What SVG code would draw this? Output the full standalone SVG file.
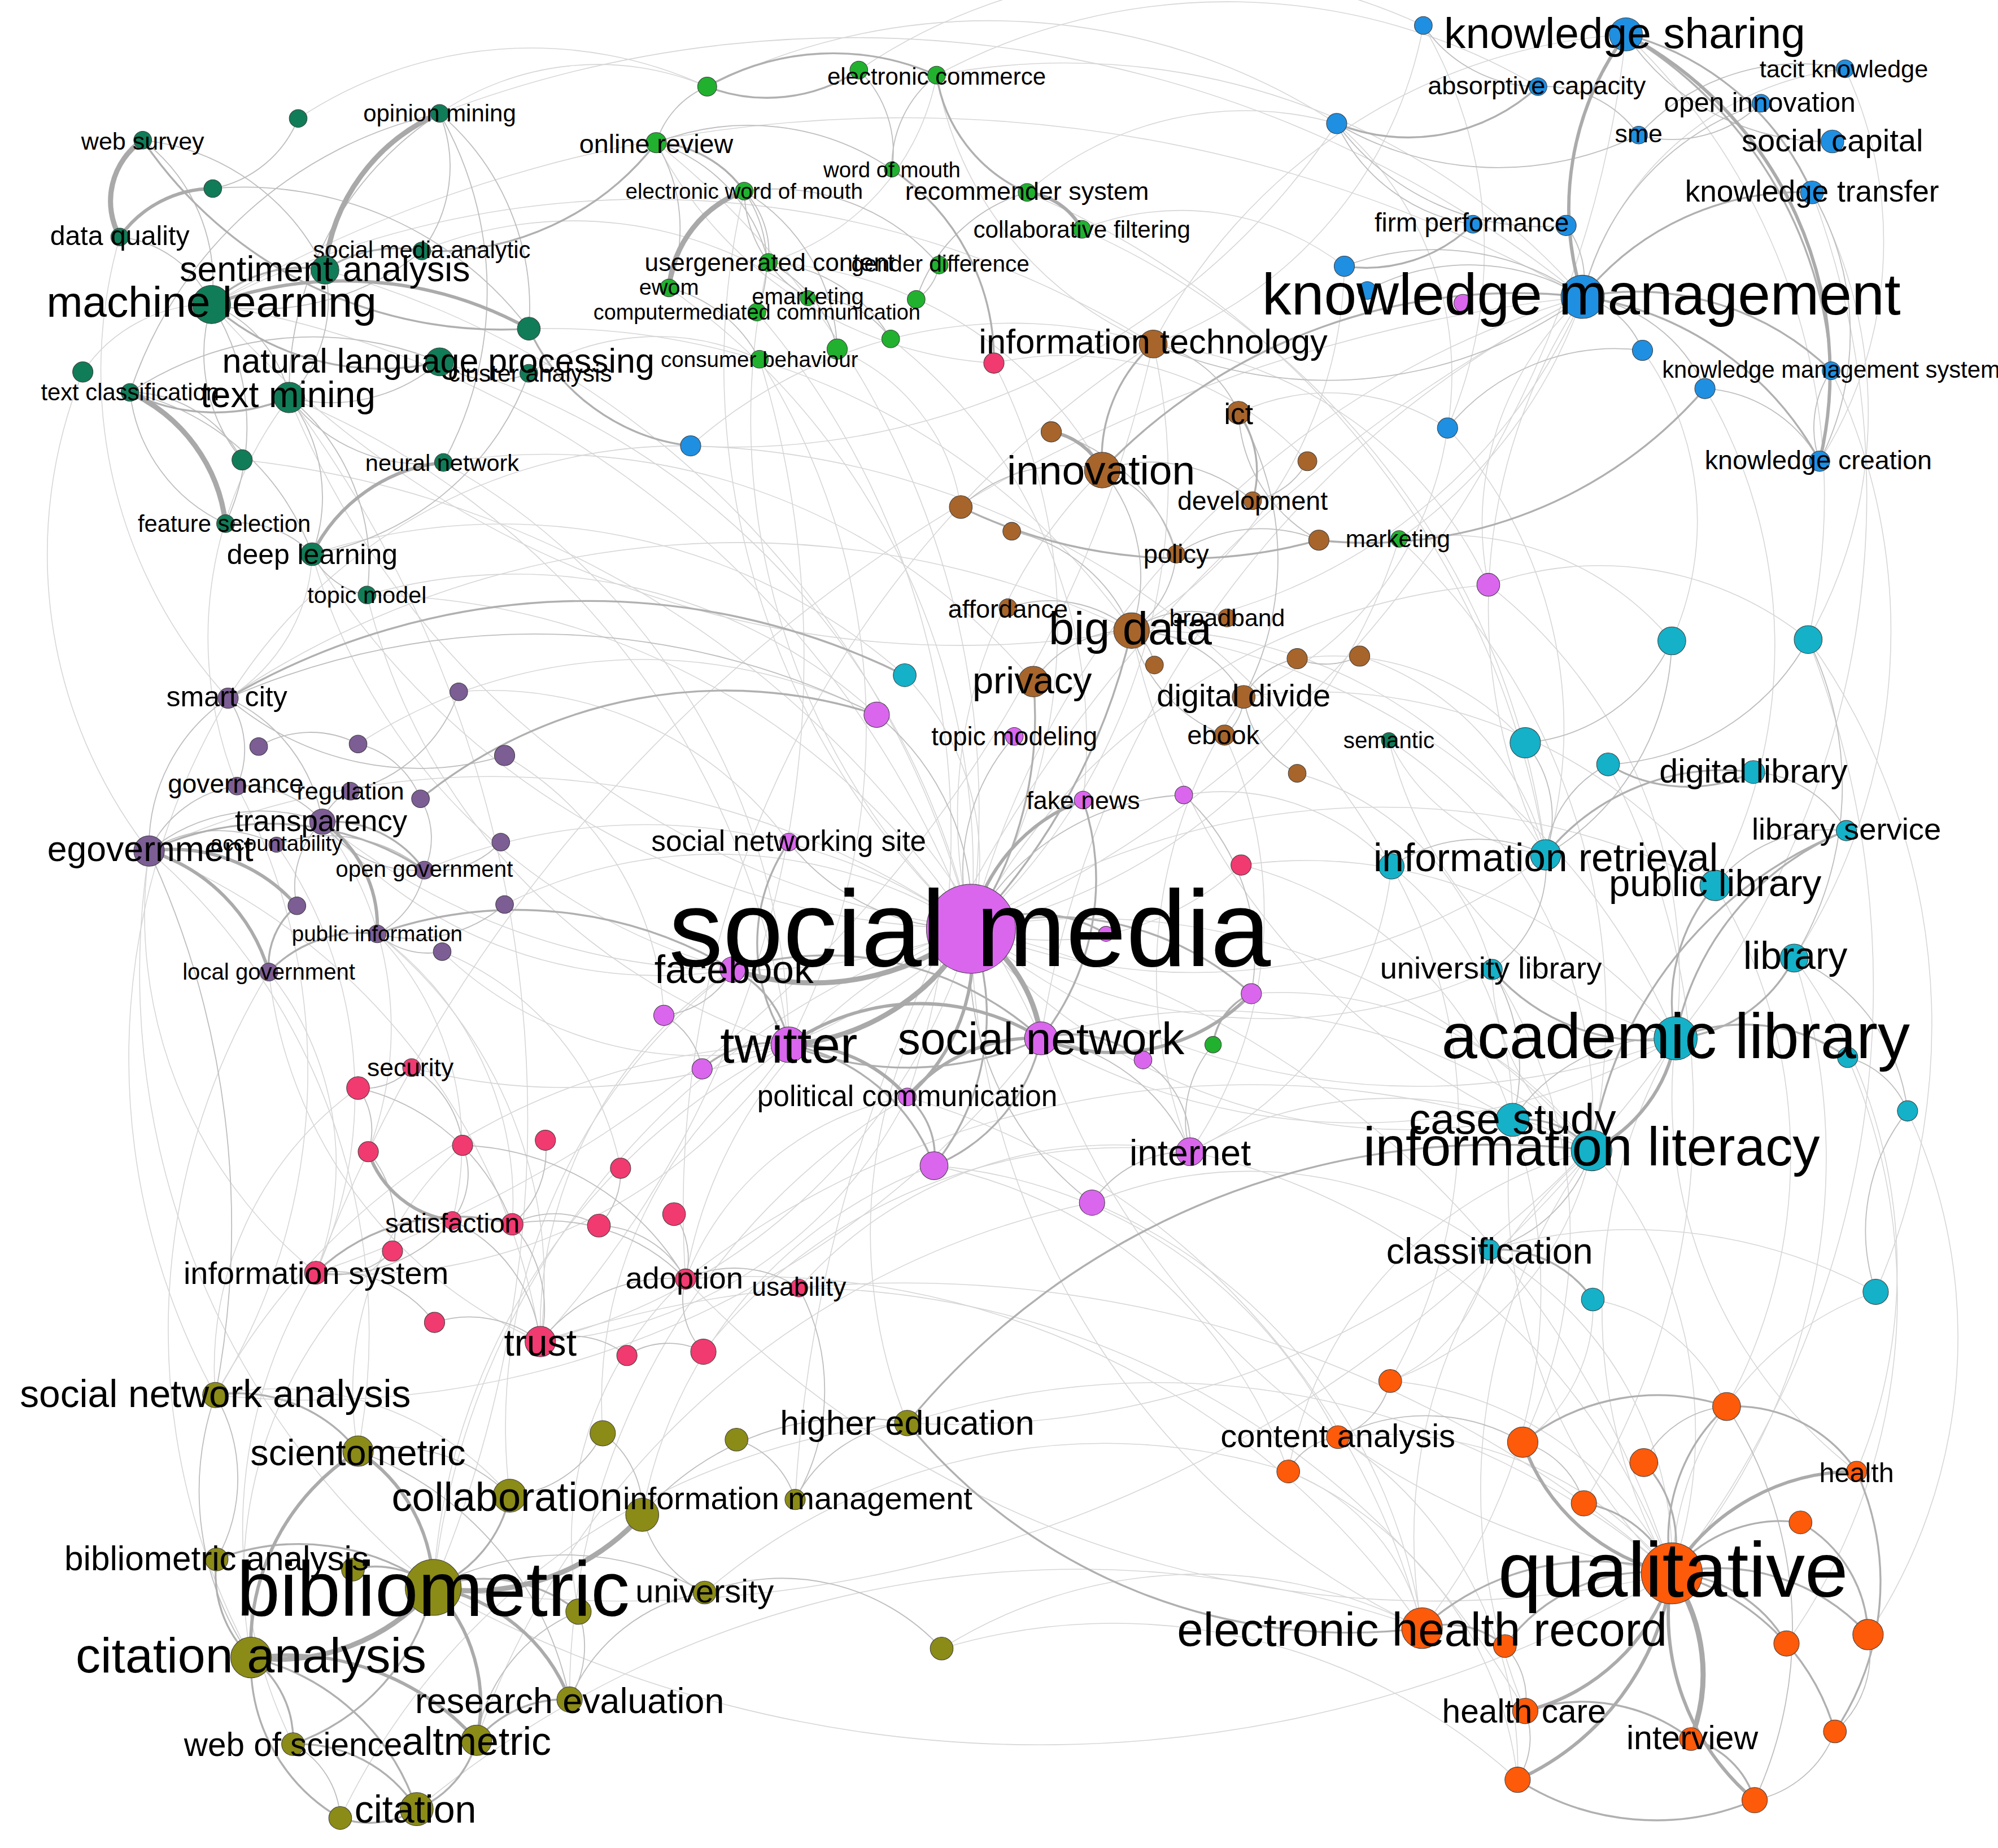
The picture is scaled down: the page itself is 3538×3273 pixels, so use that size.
<svg xmlns="http://www.w3.org/2000/svg" width="3538" height="3273" viewBox="0 0 3538 3273">
<style>
#edges path{fill:none;stroke-linecap:round}
.f{stroke:#d6d6d6;stroke-width:0.7}
.m{stroke:#bebebe;stroke-width:0.8}
.t{stroke:#b0b0b0;stroke-width:1.5}
.T{stroke:#ababab;stroke-width:2.6}
.X{stroke:#a9a9a9;stroke-width:4}
circle{stroke:#3c3c3c;stroke-width:0.45}
text{font-family:"Liberation Sans",Arial,Helvetica,sans-serif;fill:#000;text-anchor:middle;dominant-baseline:central}
.gml circle{fill:#117c58}
.gec circle{fill:#21b12f}
.gkm circle{fill:#1f8fe2}
.gbr circle{fill:#a7652b}
.ggv circle{fill:#7c5d94}
.gpk circle{fill:#f03a70}
.gsm circle{fill:#d966ed}
.gli circle{fill:#14b1c8}
.gol circle{fill:#8b8b17}
.gor circle{fill:#fd5a0a}
</style>
<rect width="3538" height="3273" fill="#fff"/>
<g transform="scale(2.2564)">
<g id="edges">
<path class="f" d="M762 729 A700 700 0 0 1 1242 233"/>
<path class="f" d="M762 729 A520 520 0 0 1 1249 903"/>
<path class="f" d="M1315 815 A560 560 0 0 1 762 729"/>
<path class="f" d="M762 729 A750 750 0 0 1 1312 1235"/>
<path class="f" d="M340 1246 A610 610 0 0 1 762 729"/>
<path class="f" d="M117 668 A650 650 0 0 1 762 729"/>
<path class="f" d="M166 239 A770 770 0 0 1 762 729"/>
<path class="f" d="M762 729 A680 680 0 0 1 227 312"/>
<path class="f" d="M1213 671 A460 460 0 0 1 762 729"/>
<path class="f" d="M762 729 A590 590 0 0 1 1346 695"/>
<path class="f" d="M762 729 A470 470 0 0 1 424 1053"/>
<path class="f" d="M538 1004 A360 360 0 0 1 762 729"/>
<path class="f" d="M712 1117 A400 400 0 0 1 762 729"/>
<path class="f" d="M905 270 A480 480 0 0 1 762 729"/>
<path class="f" d="M762 729 A380 380 0 0 1 865 369"/>
<path class="f" d="M1187 879 A450 450 0 0 1 762 729"/>
<path class="f" d="M169 1095 A530 530 0 0 1 619 820"/>
<path class="f" d="M227 312 A640 640 0 0 1 619 820"/>
<path class="f" d="M817 815 A780 780 0 0 1 1242 233"/>
<path class="f" d="M424 1053 A340 340 0 0 1 575 761"/>
<path class="f" d="M1213 671 A440 440 0 0 1 1242 233"/>
<path class="f" d="M1249 903 A340 340 0 0 1 1312 1235"/>
<path class="f" d="M1116 1278 A400 400 0 0 1 1249 903"/>
<path class="f" d="M1312 1235 A420 420 0 0 1 1315 815"/>
<path class="f" d="M1050 1128 A290 290 0 0 1 1312 1235"/>
<path class="f" d="M1249 903 A1000 1000 0 0 1 340 1246"/>
<path class="f" d="M227 312 A950 950 0 0 1 340 1246"/>
<path class="f" d="M888 495 A780 780 0 0 1 166 239"/>
<path class="f" d="M166 239 A1080 1080 0 0 1 1242 233"/>
<path class="f" d="M345 284 A600 600 0 0 1 762 729"/>
<path class="f" d="M888 495 A370 370 0 0 1 1213 671"/>
<path class="f" d="M1242 233 A440 440 0 0 1 888 495"/>
<path class="f" d="M248 999 A360 360 0 0 1 117 668"/>
<path class="f" d="M117 668 A500 500 0 0 1 424 1053"/>
<path class="f" d="M762 729 A520 520 0 0 1 253 645"/>
<path class="f" d="M179 548 A720 720 0 0 1 888 495"/>
<path class="f" d="M333 683 A440 440 0 0 1 762 729"/>
<path class="f" d="M248 999 A1200 1200 0 0 1 1242 233"/>
<path class="f" d="M424 1053 A910 910 0 0 1 1312 1235"/>
<path class="f" d="M1312 1235 A810 810 0 0 1 538 1004"/>
<path class="f" d="M538 1004 A720 720 0 0 1 1249 903"/>
<path class="f" d="M1312 1235 A420 420 0 0 1 1187 879"/>
<path class="f" d="M1187 879 A420 420 0 0 1 1116 1278"/>
<path class="f" d="M1197 1343 A450 450 0 0 1 1249 903"/>
<path class="f" d="M1116 1278 A620 620 0 0 1 762 729"/>
<path class="f" d="M1315 815 A680 680 0 0 1 712 1117"/>
<path class="f" d="M624 1177 A1130 1130 0 0 1 1242 233"/>
<path class="f" d="M169 1095 A240 240 0 0 1 400 1174"/>
<path class="f" d="M817 815 A720 720 0 0 1 169 1095"/>
<path class="f" d="M806 151 A680 680 0 0 1 1213 671"/>
<path class="f" d="M515 112 A670 670 0 0 1 762 729"/>
<path class="f" d="M762 729 A600 600 0 0 1 584 150"/>
<path class="f" d="M525 226 A560 560 0 0 1 762 729"/>
<path class="f" d="M596 282 A800 800 0 0 1 424 1053"/>
<path class="f" d="M762 729 A550 550 0 0 1 603 206"/>
<path class="f" d="M1422 151 A680 680 0 0 1 1315 815"/>
<path class="f" d="M1276 27 A870 870 0 0 1 762 729"/>
<path class="f" d="M905 270 A1000 1000 0 0 1 248 999"/>
<path class="f" d="M538 1004 A810 810 0 0 1 905 270"/>
<path class="f" d="M934 904 A380 380 0 0 1 976 547"/>
<path class="f" d="M961 577 A330 330 0 0 1 934 904"/>
<path class="f" d="M976 547 A400 400 0 0 1 1346 695"/>
<path class="f" d="M1408 752 A500 500 0 0 1 1312 1235"/>
<path class="f" d="M1249 903 A170 170 0 0 1 1171 761"/>
<path class="f" d="M712 861 A350 350 0 0 1 424 1053"/>
<path class="f" d="M538 1004 A230 230 0 0 1 712 861"/>
<path class="f" d="M817 815 A450 450 0 0 1 1249 903"/>
<path class="f" d="M1312 1235 A630 630 0 0 1 817 815"/>
<path class="f" d="M934 904 A320 320 0 0 1 1249 903"/>
<path class="f" d="M934 904 A520 520 0 0 1 1312 1235"/>
<path class="f" d="M340 1246 A510 510 0 0 1 619 820"/>
<path class="f" d="M619 820 A410 410 0 0 1 248 999"/>
<path class="f" d="M1249 903 A550 550 0 0 1 888 495"/>
<path class="f" d="M888 495 A530 530 0 0 1 1315 815"/>
<path class="f" d="M1098 423 A450 450 0 0 1 762 729"/>
<path class="f" d="M762 729 A510 510 0 0 1 1168 459"/>
<path class="f" d="M1168 459 A240 240 0 0 1 1242 233"/>
<path class="f" d="M710 530 A210 210 0 0 1 762 729"/>
<path class="f" d="M974 679 A220 220 0 0 1 762 729"/>
<path class="f" d="M780 285 A450 450 0 0 1 762 729"/>
<path class="f" d="M166 239 A750 750 0 0 1 905 270"/>
<path class="f" d="M905 270 A450 450 0 0 1 1276 27"/>
<path class="f" d="M345 89 A910 910 0 0 1 1242 233"/>
<path class="f" d="M735 59 A540 540 0 0 1 1242 233"/>
<path class="f" d="M905 270 A280 280 0 0 1 735 59"/>
<path class="f" d="M255 212 A720 720 0 0 1 762 729"/>
<path class="f" d="M762 729 A620 620 0 0 1 245 435"/>
<path class="f" d="M288 467 A570 570 0 0 1 762 729"/>
<path class="f" d="M348 363 A530 530 0 0 1 619 820"/>
<path class="f" d="M424 1053 A360 360 0 0 1 211 763"/>
<path class="f" d="M296 733 A350 350 0 0 1 424 1053"/>
<path class="f" d="M762 729 A470 470 0 0 1 323 838"/>
<path class="f" d="M1090 581 A350 350 0 0 1 1249 903"/>
<path class="f" d="M1315 815 A320 320 0 0 1 1090 581"/>
<path class="f" d="M1011 1155 A320 320 0 0 1 1249 903"/>
<path class="f" d="M1249 903 A250 250 0 0 1 1091 1084"/>
<path class="f" d="M1169 981 A280 280 0 0 1 1312 1235"/>
<path class="f" d="M1312 1235 A240 240 0 0 1 1472 1014"/>
<path class="f" d="M1457 1155 A370 370 0 0 1 1315 815"/>
<path class="f" d="M1408 752 A410 410 0 0 1 1457 1155"/>
<path class="f" d="M1419 502 A750 750 0 0 1 1312 1235"/>
<path class="f" d="M1136 336 A350 350 0 0 1 1213 671"/>
<path class="f" d="M1315 815 A500 500 0 0 1 817 815"/>
<path class="f" d="M712 1117 A620 620 0 0 1 1312 1235"/>
<path class="f" d="M1312 1235 A980 980 0 0 1 340 1246"/>
<path class="f" d="M538 1004 A640 640 0 0 1 1116 1278"/>
<path class="f" d="M340 1246 A620 620 0 0 1 117 668"/>
<path class="f" d="M169 1095 A550 550 0 0 1 179 548"/>
<path class="f" d="M186 617 A310 310 0 0 1 227 312"/>
<path class="f" d="M245 435 A140 140 0 0 1 179 548"/>
<path class="f" d="M575 761 A350 350 0 0 1 253 645"/>
<path class="f" d="M211 763 A240 240 0 0 1 248 999"/>
<path class="f" d="M296 733 A240 240 0 0 1 355 958"/>
<path class="f" d="M217 663 A340 340 0 0 1 248 999"/>
<path class="f" d="M396 710 A370 370 0 0 1 762 729"/>
<path class="f" d="M619 820 A290 290 0 0 1 347 747"/>
<path class="f" d="M575 761 A470 470 0 0 1 245 435"/>
<path class="f" d="M619 820 A490 490 0 0 1 288 467"/>
<path class="f" d="M1419 502 A520 520 0 0 1 1472 1014"/>
<path class="f" d="M1448 54 A320 320 0 0 1 1428 362"/>
<path class="f" d="M1117 20 A350 350 0 0 1 1136 336"/>
<path class="f" d="M1049 97 A570 570 0 0 1 542 350"/>
<path class="f" d="M542 350 A380 380 0 0 1 905 270"/>
<path class="f" d="M555 68 A500 500 0 0 1 1049 97"/>
<path class="f" d="M674 55 A450 450 0 0 1 1117 20"/>
<path class="f" d="M780 285 A320 320 0 0 1 515 112"/>
<path class="f" d="M780 285 A260 260 0 0 1 1026 362"/>
<path class="f" d="M1098 423 A230 230 0 0 1 1312 503"/>
<path class="f" d="M1168 459 A260 260 0 0 1 1419 502"/>
<path class="f" d="M1213 671 A160 160 0 0 1 1090 581"/>
<path class="f" d="M1092 680 A280 280 0 0 1 934 904"/>
<path class="f" d="M1171 761 A420 420 0 0 1 762 729"/>
<path class="f" d="M974 679 A370 370 0 0 1 1315 815"/>
<path class="f" d="M982 780 A300 300 0 0 1 1249 903"/>
<path class="f" d="M739 1294 A380 380 0 0 1 1116 1278"/>
<path class="f" d="M857 944 A430 430 0 0 1 1116 1278"/>
<path class="f" d="M733 915 A370 370 0 0 1 1011 1155"/>
<path class="f" d="M627 1011 A660 660 0 0 1 1197 1343"/>
<path class="f" d="M552 1061 A420 420 0 0 1 934 904"/>
<path class="f" d="M1011 1155 A300 300 0 0 1 1191 1397"/>
<path class="f" d="M1169 981 A400 400 0 0 1 1472 1014"/>
<path class="f" d="M1092 680 A250 250 0 0 1 1187 879"/>
<path class="f" d="M1242 233 A240 240 0 0 1 1448 54"/>
<path class="f" d="M1242 233 A380 380 0 0 1 1098 423"/>
<path class="f" d="M65 292 A120 120 0 0 1 166 239"/>
<path class="f" d="M735 59 A190 190 0 0 1 603 206"/>
<path class="f" d="M415 258 A560 560 0 0 1 888 495"/>
<path class="f" d="M542 350 A650 650 0 0 1 1092 680"/>
<path class="f" d="M190 361 A780 780 0 0 1 817 815"/>
<path class="f" d="M348 363 A500 500 0 0 1 811 535"/>
<path class="f" d="M603 206 A320 320 0 0 1 865 369"/>
<path class="f" d="M657 274 A160 160 0 0 1 754 398"/>
<path class="f" d="M699 266 A400 400 0 0 1 850 628"/>
<path class="f" d="M596 282 A540 540 0 0 1 619 820"/>
<path class="f" d="M594 245 A630 630 0 0 1 712 861"/>
<path class="f" d="M849 180 A620 620 0 0 1 1213 671"/>
<path class="f" d="M1098 423 A510 510 0 0 1 1249 903"/>
<path class="f" d="M1055 209 A340 340 0 0 1 888 495"/>
<path class="f" d="M1136 336 A270 270 0 0 1 976 547"/>
<path class="f" d="M1289 275 A230 230 0 0 1 1312 503"/>
<path class="f" d="M1338 305 A400 400 0 0 1 1346 695"/>
<path class="f" d="M1437 291 A470 470 0 0 1 1408 752"/>
<path class="f" d="M1168 459 A390 390 0 0 1 1315 815"/>
<path class="f" d="M1018 517 A200 200 0 0 1 1197 583"/>
<path class="f" d="M1067 515 A220 220 0 0 1 1213 671"/>
<path class="f" d="M1018 607 A220 220 0 0 1 1171 761"/>
<path class="f" d="M929 624 A180 180 0 0 1 1092 680"/>
<path class="f" d="M974 679 A300 300 0 0 1 1187 879"/>
<path class="f" d="M857 944 A320 320 0 0 1 1169 981"/>
<path class="f" d="M733 915 A390 390 0 0 1 1050 1128"/>
<path class="f" d="M712 861 A590 590 0 0 1 1116 1278"/>
<path class="f" d="M627 1011 A330 330 0 0 1 934 904"/>
<path class="f" d="M553 1250 A480 480 0 0 1 1011 1155"/>
<path class="f" d="M739 1294 A470 470 0 0 1 1191 1397"/>
<path class="f" d="M504 1189 A360 360 0 0 1 733 915"/>
<path class="f" d="M473 1125 A340 340 0 0 1 619 820"/>
<path class="f" d="M400 1174 A450 450 0 0 1 575 761"/>
<path class="f" d="M281 1139 A260 260 0 0 1 363 899"/>
<path class="f" d="M169 1095 A270 270 0 0 1 281 854"/>
<path class="f" d="M197 1301 A340 340 0 0 1 308 982"/>
<path class="f" d="M454 1265 A280 280 0 0 1 538 1004"/>
<path class="f" d="M447 1334 A550 550 0 0 1 712 861"/>
<path class="f" d="M374 1366 A650 650 0 0 1 857 944"/>
<path class="f" d="M327 1420 A810 810 0 0 1 1116 1278"/>
<path class="f" d="M267 1427 A550 550 0 0 1 712 1117"/>
<path class="f" d="M230 1369 A380 380 0 0 1 248 999"/>
<path class="f" d="M117 668 A500 500 0 0 1 281 1139"/>
<path class="f" d="M186 617 A480 480 0 0 1 169 1095"/>
<path class="f" d="M197 1301 A540 540 0 0 1 211 763"/>
<path class="f" d="M253 645 A270 270 0 0 1 289 904"/>
<path class="f" d="M296 733 A260 260 0 0 1 402 961"/>
<path class="f" d="M347 747 A230 230 0 0 1 487 917"/>
<path class="f" d="M396 593 A250 250 0 0 1 521 797"/>
<path class="f" d="M360 543 A290 290 0 0 1 619 661"/>
<path class="f" d="M281 584 A410 410 0 0 1 688 561"/>
<path class="f" d="M179 548 A420 420 0 0 1 542 350"/>
<path class="f" d="M117 668 A380 380 0 0 1 65 292"/>
<path class="f" d="M179 548 A380 380 0 0 1 94 186"/>
<path class="f" d="M234 93 A330 330 0 0 1 555 68"/>
<path class="f" d="M345 89 A220 220 0 0 1 555 68"/>
<path class="f" d="M331 197 A310 310 0 0 1 634 234"/>
<path class="f" d="M415 293 A190 190 0 0 1 596 282"/>
<path class="f" d="M288 467 A420 420 0 0 1 688 561"/>
<path class="f" d="M245 435 A480 480 0 0 1 710 530"/>
<path class="f" d="M905 270 A330 330 0 0 1 1168 459"/>
<path class="f" d="M972 324 A170 170 0 0 1 1136 336"/>
<path class="f" d="M1422 151 A360 360 0 0 1 1419 502"/>
<path class="f" d="M1276 27 A500 500 0 0 1 1419 502"/>
<path class="f" d="M1049 97 A260 260 0 0 1 1136 336"/>
<path class="f" d="M1117 20 A330 330 0 0 1 905 270"/>
<path class="f" d="M806 151 A260 260 0 0 1 1049 97"/>
<path class="f" d="M735 59 A480 480 0 0 1 1207 68"/>
<path class="f" d="M849 180 A210 210 0 0 1 1055 209"/>
<path class="f" d="M1497 872 A420 420 0 0 1 1466 1283"/>
<path class="f" d="M1450 830 A470 470 0 0 1 1402 1290"/>
<path class="f" d="M1346 695 A410 410 0 0 1 1355 1104"/>
<path class="f" d="M1262 600 A590 590 0 0 1 1243 1180"/>
<path class="f" d="M1092 680 A410 410 0 0 1 1091 1084"/>
<path class="f" d="M1171 761 A380 380 0 0 1 1195 1132"/>
<path class="f" d="M1250 1020 A140 140 0 0 1 1355 1104"/>
<path class="f" d="M1250 1020 A130 130 0 0 1 1195 1132"/>
<path class="f" d="M1169 981 A130 130 0 0 1 1091 1084"/>
<path class="f" d="M1011 1155 A170 170 0 0 1 1116 1278"/>
<path class="f" d="M1091 1084 A270 270 0 0 1 1312 1235"/>
<path class="f" d="M1050 1128 A310 310 0 0 1 1191 1397"/>
<path class="m" d="M234 93 A90 90 0 0 1 167 148"/>
<path class="m" d="M102 308 A260 260 0 0 1 345 284"/>
<path class="m" d="M177 411 A80 80 0 0 1 245 435"/>
<path class="m" d="M94 186 A90 90 0 0 1 166 239"/>
<path class="m" d="M112 110 A140 140 0 0 1 166 239"/>
<path class="m" d="M227 312 A260 260 0 0 1 345 89"/>
<path class="m" d="M345 89 A110 110 0 0 1 331 197"/>
<path class="m" d="M345 89 A280 280 0 0 1 348 363"/>
<path class="m" d="M166 239 A100 100 0 0 1 227 312"/>
<path class="m" d="M255 212 A110 110 0 0 1 227 312"/>
<path class="m" d="M345 284 A130 130 0 0 1 227 312"/>
<path class="m" d="M227 312 A130 130 0 0 1 245 435"/>
<path class="m" d="M166 239 A180 180 0 0 1 177 411"/>
<path class="m" d="M190 361 A130 130 0 0 1 166 239"/>
<path class="m" d="M102 308 A100 100 0 0 1 190 361"/>
<path class="m" d="M102 308 A330 330 0 0 1 345 89"/>
<path class="m" d="M348 363 A130 130 0 0 1 227 312"/>
<path class="m" d="M415 293 A70 70 0 0 1 345 284"/>
<path class="m" d="M415 293 A220 220 0 0 1 245 435"/>
<path class="m" d="M288 467 A60 60 0 0 1 245 435"/>
<path class="m" d="M227 312 A170 170 0 0 1 288 467"/>
<path class="m" d="M112 110 A180 180 0 0 1 255 212"/>
<path class="m" d="M167 148 A280 280 0 0 1 415 258"/>
<path class="m" d="M345 89 A200 200 0 0 1 415 258"/>
<path class="m" d="M331 197 A200 200 0 0 1 166 239"/>
<path class="m" d="M177 411 A130 130 0 0 1 102 308"/>
<path class="m" d="M102 308 A200 200 0 0 1 245 435"/>
<path class="t" d="M415 258 A340 340 0 0 1 112 110"/>
<path class="t" d="M255 212 A100 100 0 0 1 331 197"/>
<path class="t" d="M166 239 A100 100 0 0 1 255 212"/>
<path class="t" d="M345 284 A200 200 0 0 1 166 239"/>
<path class="t" d="M227 312 A150 150 0 0 1 102 308"/>
<path class="t" d="M515 112 A220 220 0 0 1 331 197"/>
<path class="t" d="M542 350 A160 160 0 0 1 415 258"/>
<path class="T" d="M94 186 A90 90 0 0 1 167 148"/>
<path class="T" d="M166 239 A300 300 0 0 1 415 258"/>
<path class="T" d="M245 435 A130 130 0 0 1 348 363"/>
<path class="X" d="M94 186 A58 58 0 0 1 112 110"/>
<path class="X" d="M255 212 A150 150 0 0 1 345 89"/>
<path class="X" d="M102 308 A130 130 0 0 1 177 411"/>
<path class="m" d="M515 112 A130 130 0 0 1 525 226"/>
<path class="m" d="M515 112 A70 70 0 0 1 555 68"/>
<path class="m" d="M515 112 A200 200 0 0 1 700 133"/>
<path class="m" d="M700 133 A90 90 0 0 1 735 59"/>
<path class="m" d="M584 150 A70 70 0 0 1 603 206"/>
<path class="m" d="M584 150 A100 100 0 0 1 594 245"/>
<path class="m" d="M525 226 A110 110 0 0 1 596 282"/>
<path class="m" d="M737 208 A40 40 0 0 1 719 235"/>
<path class="m" d="M603 206 A120 120 0 0 1 699 266"/>
<path class="m" d="M634 234 A75 75 0 0 1 699 266"/>
<path class="m" d="M634 234 A100 100 0 0 1 584 150"/>
<path class="m" d="M584 150 A170 170 0 0 1 737 208"/>
<path class="m" d="M515 112 A130 130 0 0 1 603 206"/>
<path class="m" d="M674 55 A90 90 0 0 1 700 133"/>
<path class="m" d="M603 206 A100 100 0 0 1 657 274"/>
<path class="m" d="M719 235 A130 130 0 0 1 806 151"/>
<path class="m" d="M584 150 A150 150 0 0 1 657 274"/>
<path class="t" d="M515 112 A90 90 0 0 1 584 150"/>
<path class="t" d="M555 68 A200 200 0 0 1 735 59"/>
<path class="t" d="M674 55 A130 130 0 0 1 555 68"/>
<path class="t" d="M806 151 A120 120 0 0 1 735 59"/>
<path class="t" d="M700 133 A180 180 0 0 1 780 285"/>
<path class="T" d="M806 151 A55 55 0 0 1 849 180"/>
<path class="X" d="M525 226 A90 90 0 0 1 584 150"/>
<path class="m" d="M1156 176 A140 140 0 0 1 1049 97"/>
<path class="m" d="M1207 68 A110 110 0 0 1 1117 20"/>
<path class="m" d="M1207 68 A90 90 0 0 1 1286 106"/>
<path class="m" d="M1286 106 A170 170 0 0 1 1448 54"/>
<path class="m" d="M1382 81 A100 100 0 0 1 1286 106"/>
<path class="m" d="M1438 111 A190 190 0 0 1 1276 27"/>
<path class="m" d="M1229 177 A70 70 0 0 1 1242 233"/>
<path class="m" d="M1242 233 A70 70 0 0 1 1289 275"/>
<path class="m" d="M1242 233 A120 120 0 0 1 1338 305"/>
<path class="m" d="M1055 209 A200 200 0 0 1 1242 233"/>
<path class="m" d="M1073 228 A170 170 0 0 1 1242 233"/>
<path class="m" d="M1242 233 A340 340 0 0 1 905 270"/>
<path class="m" d="M1229 177 A200 200 0 0 1 1049 97"/>
<path class="m" d="M1286 106 A250 250 0 0 1 1049 97"/>
<path class="m" d="M1428 362 A80 80 0 0 1 1437 291"/>
<path class="m" d="M1422 151 A220 220 0 0 1 1428 362"/>
<path class="m" d="M1242 233 A210 210 0 0 1 1382 81"/>
<path class="m" d="M1338 305 A110 110 0 0 1 1428 362"/>
<path class="m" d="M1136 336 A170 170 0 0 1 1289 275"/>
<path class="t" d="M1276 27 A330 330 0 0 1 1437 291"/>
<path class="t" d="M1276 27 A220 220 0 0 1 1422 151"/>
<path class="t" d="M1242 233 A250 250 0 0 1 1428 362"/>
<path class="t" d="M1242 233 A220 220 0 0 1 1422 151"/>
<path class="t" d="M1242 233 A220 220 0 0 1 1437 291"/>
<path class="t" d="M1207 68 A150 150 0 0 1 1049 97"/>
<path class="t" d="M1156 176 A120 120 0 0 1 1055 209"/>
<path class="t" d="M1338 305 A350 350 0 0 1 1035 424"/>
<path class="t" d="M865 369 A450 450 0 0 1 1242 233"/>
<path class="T" d="M1242 233 A230 230 0 0 1 1276 27"/>
<path class="T" d="M1276 27 A300 300 0 0 1 1428 362"/>
<path class="m" d="M865 369 A90 90 0 0 1 923 435"/>
<path class="m" d="M865 369 A120 120 0 0 1 983 393"/>
<path class="m" d="M905 270 A90 90 0 0 1 972 324"/>
<path class="m" d="M811 535 A90 90 0 0 1 888 495"/>
<path class="m" d="M888 495 A100 100 0 0 1 976 547"/>
<path class="m" d="M888 495 A80 80 0 0 1 963 485"/>
<path class="m" d="M791 477 A100 100 0 0 1 888 495"/>
<path class="m" d="M888 495 A40 40 0 0 1 906 522"/>
<path class="m" d="M923 435 A80 80 0 0 1 888 495"/>
<path class="m" d="M976 547 A40 40 0 0 1 961 577"/>
<path class="m" d="M976 547 A60 60 0 0 1 1018 517"/>
<path class="m" d="M972 324 A230 230 0 0 1 976 547"/>
<path class="m" d="M1035 424 A120 120 0 0 1 972 324"/>
<path class="m" d="M754 398 A120 120 0 0 1 865 369"/>
<path class="m" d="M794 417 A130 130 0 0 1 888 495"/>
<path class="m" d="M825 339 A140 140 0 0 1 923 435"/>
<path class="m" d="M1026 362 A60 60 0 0 1 983 393"/>
<path class="m" d="M1067 515 A60 60 0 0 1 1018 517"/>
<path class="m" d="M1018 607 A80 80 0 0 1 976 547"/>
<path class="m" d="M961 577 A120 120 0 0 1 888 495"/>
<path class="m" d="M865 369 A130 130 0 0 1 888 495"/>
<path class="m" d="M923 435 A120 120 0 0 1 1035 424"/>
<path class="t" d="M865 369 A120 120 0 0 1 905 270"/>
<path class="t" d="M972 324 A80 80 0 0 1 983 393"/>
<path class="t" d="M888 495 A500 500 0 0 1 762 729"/>
<path class="t" d="M811 535 A300 300 0 0 1 762 729"/>
<path class="t" d="M1035 424 A400 400 0 0 1 754 398"/>
<path class="T" d="M825 339 A55 55 0 0 1 865 369"/>
<path class="m" d="M762 729 A180 180 0 0 1 619 661"/>
<path class="m" d="M762 729 A160 160 0 0 1 796 578"/>
<path class="m" d="M688 561 A200 200 0 0 1 762 729"/>
<path class="m" d="M817 815 A150 150 0 0 1 934 904"/>
<path class="m" d="M897 832 A80 80 0 0 1 934 904"/>
<path class="m" d="M934 904 A90 90 0 0 1 952 820"/>
<path class="m" d="M857 944 A240 240 0 0 1 762 729"/>
<path class="m" d="M857 944 A90 90 0 0 1 934 904"/>
<path class="m" d="M762 729 A200 200 0 0 1 929 624"/>
<path class="m" d="M575 761 A70 70 0 0 1 521 797"/>
<path class="m" d="M521 797 A60 60 0 0 1 551 839"/>
<path class="m" d="M929 624 A170 170 0 0 1 982 780"/>
<path class="t" d="M762 729 A190 190 0 0 1 733 915"/>
<path class="t" d="M619 820 A150 150 0 0 1 733 915"/>
<path class="t" d="M817 815 A140 140 0 0 1 733 915"/>
<path class="t" d="M712 861 A60 60 0 0 1 733 915"/>
<path class="t" d="M762 729 A230 230 0 0 1 982 780"/>
<path class="t" d="M619 820 A140 140 0 0 1 619 661"/>
<path class="t" d="M762 729 A110 110 0 0 1 868 733"/>
<path class="t" d="M817 815 A90 90 0 0 1 897 832"/>
<path class="t" d="M952 820 A50 50 0 0 1 982 780"/>
<path class="t" d="M575 761 A80 80 0 0 1 619 820"/>
<path class="t" d="M551 839 A80 80 0 0 1 619 820"/>
<path class="t" d="M817 815 A250 250 0 0 1 619 820"/>
<path class="t" d="M575 761 A250 250 0 0 1 817 815"/>
<path class="t" d="M850 628 A200 200 0 0 1 817 815"/>
<path class="T" d="M619 820 A180 180 0 0 1 817 815"/>
<path class="T" d="M619 820 A120 120 0 0 1 712 861"/>
<path class="T" d="M712 861 A130 130 0 0 1 817 815"/>
<path class="T" d="M762 729 A150 150 0 0 1 712 861"/>
<path class="T" d="M982 780 A150 150 0 0 1 817 815"/>
<path class="T" d="M762 729 A140 140 0 0 1 850 628"/>
<path class="X" d="M762 729 A180 180 0 0 1 619 820"/>
<path class="X" d="M762 729 A200 200 0 0 1 575 761"/>
<path class="X" d="M762 729 A120 120 0 0 1 817 815"/>
<path class="m" d="M117 668 A140 140 0 0 1 253 645"/>
<path class="m" d="M117 668 A100 100 0 0 1 217 663"/>
<path class="m" d="M333 683 A90 90 0 0 1 253 645"/>
<path class="m" d="M253 645 A40 40 0 0 1 275 621"/>
<path class="m" d="M186 617 A80 80 0 0 1 253 645"/>
<path class="m" d="M179 548 A70 70 0 0 1 186 617"/>
<path class="m" d="M179 548 A130 130 0 0 1 253 645"/>
<path class="m" d="M117 668 A90 90 0 0 1 186 617"/>
<path class="m" d="M117 668 A140 140 0 0 1 179 548"/>
<path class="m" d="M330 627 A60 60 0 0 1 333 683"/>
<path class="m" d="M333 683 A70 70 0 0 1 296 733"/>
<path class="m" d="M396 710 A110 110 0 0 1 296 733"/>
<path class="m" d="M347 747 A60 60 0 0 1 296 733"/>
<path class="m" d="M360 543 A120 120 0 0 1 275 621"/>
<path class="m" d="M396 593 A230 230 0 0 1 179 548"/>
<path class="m" d="M203 586 A80 80 0 0 1 281 584"/>
<path class="m" d="M281 584 A70 70 0 0 1 330 627"/>
<path class="m" d="M233 711 A70 70 0 0 1 253 645"/>
<path class="m" d="M393 661 A70 70 0 0 1 333 683"/>
<path class="m" d="M217 663 A120 120 0 0 1 333 683"/>
<path class="m" d="M179 548 A600 600 0 0 1 688 561"/>
<path class="m" d="M117 668 A700 700 0 0 1 169 1095"/>
<path class="t" d="M211 763 A60 60 0 0 1 233 711"/>
<path class="t" d="M211 763 A100 100 0 0 1 296 733"/>
<path class="t" d="M117 668 A220 220 0 0 1 333 683"/>
<path class="t" d="M253 645 A90 90 0 0 1 333 683"/>
<path class="t" d="M296 733 A330 330 0 0 1 575 761"/>
<path class="t" d="M330 627 A380 380 0 0 1 688 561"/>
<path class="t" d="M179 548 A560 560 0 0 1 710 530"/>
<path class="T" d="M117 668 A140 140 0 0 1 211 763"/>
<path class="T" d="M117 668 A130 130 0 0 1 233 711"/>
<path class="T" d="M253 645 A100 100 0 0 1 296 733"/>
<path class="m" d="M323 838 A50 50 0 0 1 281 854"/>
<path class="m" d="M281 854 A55 55 0 0 1 289 904"/>
<path class="m" d="M363 899 A60 60 0 0 1 355 958"/>
<path class="m" d="M402 961 A100 100 0 0 1 424 1053"/>
<path class="m" d="M402 961 A150 150 0 0 1 538 1004"/>
<path class="m" d="M355 958 A120 120 0 0 1 248 999"/>
<path class="m" d="M248 999 A100 100 0 0 1 341 1038"/>
<path class="m" d="M341 1038 A90 90 0 0 1 424 1053"/>
<path class="m" d="M424 1053 A70 70 0 0 1 492 1064"/>
<path class="m" d="M492 1064 A60 60 0 0 1 552 1061"/>
<path class="m" d="M552 1061 A60 60 0 0 1 538 1004"/>
<path class="m" d="M538 1004 A90 90 0 0 1 627 1011"/>
<path class="m" d="M470 962 A80 80 0 0 1 538 1004"/>
<path class="m" d="M402 961 A70 70 0 0 1 470 962"/>
<path class="m" d="M428 895 A75 75 0 0 1 402 961"/>
<path class="m" d="M487 917 A60 60 0 0 1 470 962"/>
<path class="m" d="M529 953 A60 60 0 0 1 538 1004"/>
<path class="m" d="M308 982 A65 65 0 0 1 248 999"/>
<path class="m" d="M355 958 A120 120 0 0 1 424 1053"/>
<path class="m" d="M281 854 A170 170 0 0 1 402 961"/>
<path class="m" d="M363 899 A210 210 0 0 1 538 1004"/>
<path class="m" d="M424 1053 A130 130 0 0 1 538 1004"/>
<path class="m" d="M289 904 A90 90 0 0 1 308 982"/>
<path class="m" d="M323 838 A80 80 0 0 1 363 899"/>
<path class="t" d="M248 999 A160 160 0 0 1 402 961"/>
<path class="T" d="M355 958 A80 80 0 0 1 289 904"/>
<path class="m" d="M169 1095 A130 130 0 0 1 170 1224"/>
<path class="m" d="M281 1139 A130 130 0 0 1 400 1174"/>
<path class="m" d="M454 1265 A80 80 0 0 1 447 1334"/>
<path class="m" d="M340 1246 A220 220 0 0 1 553 1250"/>
<path class="m" d="M230 1369 A70 70 0 0 1 267 1427"/>
<path class="m" d="M197 1301 A230 230 0 0 1 169 1095"/>
<path class="m" d="M553 1250 A170 170 0 0 1 739 1294"/>
<path class="m" d="M624 1177 A110 110 0 0 1 712 1117"/>
<path class="m" d="M578 1130 A70 70 0 0 1 624 1177"/>
<path class="m" d="M473 1125 A90 90 0 0 1 400 1174"/>
<path class="m" d="M473 1125 A75 75 0 0 1 504 1189"/>
<path class="m" d="M504 1189 A220 220 0 0 1 712 1117"/>
<path class="m" d="M553 1250 A90 90 0 0 1 504 1189"/>
<path class="m" d="M627 1011 A170 170 0 0 1 624 1177"/>
<path class="m" d="M447 1334 A140 140 0 0 1 553 1250"/>
<path class="m" d="M281 1139 A260 260 0 0 1 447 1334"/>
<path class="m" d="M374 1366 A130 130 0 0 1 454 1265"/>
<path class="t" d="M197 1301 A80 80 0 0 1 230 1369"/>
<path class="t" d="M230 1369 A110 110 0 0 1 327 1420"/>
<path class="t" d="M374 1366 A80 80 0 0 1 327 1420"/>
<path class="t" d="M327 1420 A70 70 0 0 1 267 1427"/>
<path class="t" d="M374 1366 A90 90 0 0 1 447 1334"/>
<path class="t" d="M169 1095 A120 120 0 0 1 281 1139"/>
<path class="t" d="M170 1224 A180 180 0 0 1 340 1246"/>
<path class="t" d="M197 1301 A90 90 0 0 1 170 1224"/>
<path class="t" d="M277 1232 A70 70 0 0 1 340 1246"/>
<path class="t" d="M400 1174 A100 100 0 0 1 340 1246"/>
<path class="t" d="M340 1246 A120 120 0 0 1 454 1265"/>
<path class="t" d="M340 1246 A170 170 0 0 1 230 1369"/>
<path class="t" d="M197 1301 A180 180 0 0 1 327 1420"/>
<path class="t" d="M267 1427 A140 140 0 0 1 197 1301"/>
<path class="t" d="M712 1117 A600 600 0 0 1 1249 903"/>
<path class="t" d="M1116 1278 A450 450 0 0 1 712 1117"/>
<path class="T" d="M281 1139 A130 130 0 0 1 340 1246"/>
<path class="T" d="M340 1246 A140 140 0 0 1 447 1334"/>
<path class="T" d="M340 1246 A130 130 0 0 1 374 1366"/>
<path class="T" d="M197 1301 A200 200 0 0 1 374 1366"/>
<path class="T" d="M197 1301 A180 180 0 0 1 281 1139"/>
<path class="X" d="M340 1246 A160 160 0 0 1 197 1301"/>
<path class="X" d="M504 1189 A180 180 0 0 1 340 1246"/>
<path class="m" d="M1197 1343 A60 60 0 0 1 1191 1397"/>
<path class="m" d="M1466 1283 A80 80 0 0 1 1440 1359"/>
<path class="m" d="M1440 1359 A85 85 0 0 1 1377 1413"/>
<path class="m" d="M1181 1292 A60 60 0 0 1 1197 1343"/>
<path class="m" d="M1050 1128 A150 150 0 0 1 1195 1132"/>
<path class="m" d="M1091 1084 A60 60 0 0 1 1050 1128"/>
<path class="m" d="M1011 1155 A50 50 0 0 1 1050 1128"/>
<path class="m" d="M1195 1132 A70 70 0 0 1 1243 1180"/>
<path class="m" d="M1290 1148 A80 80 0 0 1 1355 1104"/>
<path class="m" d="M1355 1104 A320 320 0 0 1 1377 1413"/>
<path class="t" d="M1312 1235 A140 140 0 0 1 1355 1104"/>
<path class="t" d="M1312 1235 A160 160 0 0 1 1466 1283"/>
<path class="t" d="M1312 1235 A110 110 0 0 1 1402 1290"/>
<path class="t" d="M1312 1235 A180 180 0 0 1 1440 1359"/>
<path class="t" d="M1312 1235 A110 110 0 0 1 1413 1195"/>
<path class="t" d="M1243 1180 A90 90 0 0 1 1312 1235"/>
<path class="t" d="M1290 1148 A90 90 0 0 1 1312 1235"/>
<path class="t" d="M1116 1278 A200 200 0 0 1 1312 1235"/>
<path class="t" d="M1181 1292 A140 140 0 0 1 1312 1235"/>
<path class="t" d="M1195 1132 A170 170 0 0 1 1355 1104"/>
<path class="t" d="M1355 1104 A115 115 0 0 1 1457 1155"/>
<path class="t" d="M1377 1413 A200 200 0 0 1 1191 1397"/>
<path class="t" d="M1327 1365 A70 70 0 0 1 1377 1413"/>
<path class="t" d="M1197 1343 A140 140 0 0 1 1327 1365"/>
<path class="t" d="M1116 1278 A70 70 0 0 1 1181 1292"/>
<path class="t" d="M1413 1195 A105 105 0 0 1 1466 1283"/>
<path class="t" d="M1457 1155 A210 210 0 0 1 1440 1359"/>
<path class="T" d="M1312 1235 A160 160 0 0 1 1197 1343"/>
<path class="T" d="M1312 1235 A210 210 0 0 1 1191 1397"/>
<path class="T" d="M1377 1413 A190 190 0 0 1 1312 1235"/>
<path class="T" d="M1312 1235 A170 170 0 0 1 1457 1155"/>
<path class="T" d="M1312 1235 A160 160 0 0 1 1195 1132"/>
<path class="X" d="M1312 1235 A140 140 0 0 1 1327 1365"/>
<path class="m" d="M1450 830 A70 70 0 0 1 1497 872"/>
<path class="m" d="M1408 752 A150 150 0 0 1 1497 872"/>
<path class="m" d="M1213 671 A90 90 0 0 1 1262 600"/>
<path class="m" d="M1092 680 A120 120 0 0 1 1213 671"/>
<path class="m" d="M1197 583 A90 90 0 0 1 1213 671"/>
<path class="m" d="M1346 695 A115 115 0 0 1 1449 652"/>
<path class="m" d="M1376 606 A90 90 0 0 1 1449 652"/>
<path class="m" d="M1213 671 A100 100 0 0 1 1171 761"/>
<path class="m" d="M1187 879 A145 145 0 0 1 1315 815"/>
<path class="m" d="M1249 903 A120 120 0 0 1 1169 981"/>
<path class="m" d="M1472 1014 A150 150 0 0 1 1497 872"/>
<path class="m" d="M1312 503 A140 140 0 0 1 1197 583"/>
<path class="m" d="M1419 502 A260 260 0 0 1 1408 752"/>
<path class="m" d="M1312 503 A200 200 0 0 1 1213 671"/>
<path class="m" d="M1419 502 A190 190 0 0 1 1262 600"/>
<path class="m" d="M1171 761 A150 150 0 0 1 1187 879"/>
<path class="t" d="M1408 752 A115 115 0 0 1 1315 815"/>
<path class="t" d="M1315 815 A140 140 0 0 1 1346 695"/>
<path class="t" d="M1315 815 A160 160 0 0 1 1171 761"/>
<path class="t" d="M1315 815 A220 220 0 0 1 1449 652"/>
<path class="t" d="M1315 815 A140 140 0 0 1 1450 830"/>
<path class="t" d="M1213 671 A180 180 0 0 1 1376 606"/>
<path class="t" d="M1376 606 A120 120 0 0 1 1262 600"/>
<path class="t" d="M1187 879 A70 70 0 0 1 1249 903"/>
<path class="t" d="M1169 981 A90 90 0 0 1 1250 1020"/>
<path class="t" d="M1249 903 A320 320 0 0 1 1449 652"/>
<path class="T" d="M1315 815 A120 120 0 0 1 1249 903"/>
</g>
<g id="nodes">
<g id="n-g1a" class="gml"><circle cx="234" cy="93" r="7"/></g>
<g id="n-g1b" class="gml"><circle cx="167" cy="148" r="7"/></g>
<g id="n-g1c" class="gml"><circle cx="415" cy="258" r="9"/></g>
<g id="n-g1d" class="gml"><circle cx="65" cy="292" r="8"/></g>
<g id="n-g1e" class="gml"><circle cx="190" cy="361" r="8"/></g>
<g id="n-g2a" class="gec"><circle cx="555" cy="68" r="7.5"/></g>
<g id="n-g2b" class="gec"><circle cx="674" cy="55" r="7"/></g>
<g id="n-g2c" class="gec"><circle cx="719" cy="235" r="7"/></g>
<g id="n-g2d" class="gec"><circle cx="699" cy="266" r="7"/></g>
<g id="n-g2e" class="gec"><circle cx="657" cy="274" r="8"/></g>
<g id="n-g2f" class="gec"><circle cx="952" cy="820" r="6.5"/></g>
<g id="n-b1" class="gkm"><circle cx="1117" cy="20" r="7"/></g>
<g id="n-b2" class="gkm"><circle cx="1049" cy="97" r="8"/></g>
<g id="n-b3" class="gkm"><circle cx="1229" cy="177" r="8"/></g>
<g id="n-b4" class="gkm"><circle cx="1055" cy="209" r="8"/></g>
<g id="n-b5" class="gkm"><circle cx="1073" cy="228" r="7"/></g>
<g id="n-b6" class="gkm"><circle cx="1289" cy="275" r="8"/></g>
<g id="n-b7" class="gkm"><circle cx="1338" cy="305" r="8"/></g>
<g id="n-b8" class="gkm"><circle cx="1136" cy="336" r="8"/></g>
<g id="n-b9" class="gkm"><circle cx="542" cy="350" r="8"/></g>
<g id="n-w1" class="gbr"><circle cx="825" cy="339" r="8"/></g>
<g id="n-w2" class="gbr"><circle cx="1026" cy="362" r="7.5"/></g>
<g id="n-w3" class="gbr"><circle cx="754" cy="398" r="9"/></g>
<g id="n-w4" class="gbr"><circle cx="794" cy="417" r="7"/></g>
<g id="n-w5" class="gbr"><circle cx="1035" cy="424" r="8"/></g>
<g id="n-w6" class="gbr"><circle cx="906" cy="522" r="7"/></g>
<g id="n-w7" class="gbr"><circle cx="1018" cy="517" r="8"/></g>
<g id="n-w8" class="gbr"><circle cx="1067" cy="515" r="8"/></g>
<g id="n-w9" class="gbr"><circle cx="1018" cy="607" r="7"/></g>
<g id="n-p1" class="ggv"><circle cx="360" cy="543" r="7"/></g>
<g id="n-p2" class="ggv"><circle cx="203" cy="586" r="7"/></g>
<g id="n-p3" class="ggv"><circle cx="281" cy="584" r="7"/></g>
<g id="n-p4" class="ggv"><circle cx="396" cy="593" r="8"/></g>
<g id="n-p5" class="ggv"><circle cx="330" cy="627" r="7"/></g>
<g id="n-p6" class="ggv"><circle cx="393" cy="661" r="7"/></g>
<g id="n-p7" class="ggv"><circle cx="233" cy="711" r="7"/></g>
<g id="n-p8" class="ggv"><circle cx="396" cy="710" r="7"/></g>
<g id="n-p9" class="ggv"><circle cx="347" cy="747" r="7"/></g>
<g id="n-k1" class="gpk"><circle cx="780" cy="285" r="8"/></g>
<g id="n-k2" class="gpk"><circle cx="974" cy="679" r="8"/></g>
<g id="n-k3" class="gpk"><circle cx="281" cy="854" r="9"/></g>
<g id="n-k4" class="gpk"><circle cx="289" cy="904" r="8"/></g>
<g id="n-k5" class="gpk"><circle cx="363" cy="899" r="8"/></g>
<g id="n-k6" class="gpk"><circle cx="428" cy="895" r="8"/></g>
<g id="n-k7" class="gpk"><circle cx="487" cy="917" r="8"/></g>
<g id="n-k8" class="gpk"><circle cx="529" cy="953" r="9"/></g>
<g id="n-k9" class="gpk"><circle cx="402" cy="961" r="8.5"/></g>
<g id="n-k10" class="gpk"><circle cx="470" cy="962" r="9"/></g>
<g id="n-k11" class="gpk"><circle cx="308" cy="982" r="8"/></g>
<g id="n-k12" class="gpk"><circle cx="341" cy="1038" r="8"/></g>
<g id="n-k13" class="gpk"><circle cx="492" cy="1064" r="8"/></g>
<g id="n-k14" class="gpk"><circle cx="552" cy="1061" r="10"/></g>
<g id="n-m1" class="gsm"><circle cx="1168" cy="459" r="9"/></g>
<g id="n-m2" class="gsm"><circle cx="688" cy="561" r="10"/></g>
<g id="n-m3" class="gsm"><circle cx="929" cy="624" r="7"/></g>
<g id="n-m4" class="gsm"><circle cx="868" cy="733" r="6"/></g>
<g id="n-m5" class="gsm"><circle cx="982" cy="780" r="8"/></g>
<g id="n-m6" class="gsm"><circle cx="521" cy="797" r="8"/></g>
<g id="n-m7" class="gsm"><circle cx="897" cy="832" r="7"/></g>
<g id="n-m8" class="gsm"><circle cx="551" cy="839" r="8"/></g>
<g id="n-m9" class="gsm"><circle cx="733" cy="915" r="11"/></g>
<g id="n-m10" class="gsm"><circle cx="857" cy="944" r="10"/></g>
<g id="n-m11" class="gsm"><circle cx="1148" cy="238" r="7"/></g>
<g id="n-c0" class="gli"><circle cx="710" cy="530" r="9"/></g>
<g id="n-c1" class="gli"><circle cx="1312" cy="503" r="11"/></g>
<g id="n-c2" class="gli"><circle cx="1419" cy="502" r="11"/></g>
<g id="n-c3" class="gli"><circle cx="1197" cy="583" r="12"/></g>
<g id="n-c4" class="gli"><circle cx="1262" cy="600" r="9"/></g>
<g id="n-c5" class="gli"><circle cx="1092" cy="680" r="10"/></g>
<g id="n-c6" class="gli"><circle cx="1450" cy="830" r="8"/></g>
<g id="n-c7" class="gli"><circle cx="1497" cy="872" r="8"/></g>
<g id="n-c8" class="gli"><circle cx="1250" cy="1020" r="9"/></g>
<g id="n-c9" class="gli"><circle cx="1472" cy="1014" r="10"/></g>
<g id="n-o1" class="gol"><circle cx="473" cy="1125" r="10"/></g>
<g id="n-o2" class="gol"><circle cx="578" cy="1130" r="9"/></g>
<g id="n-o3" class="gol"><circle cx="504" cy="1189" r="13"/></g>
<g id="n-o4" class="gol"><circle cx="277" cy="1232" r="9"/></g>
<g id="n-o5" class="gol"><circle cx="454" cy="1265" r="10"/></g>
<g id="n-o6" class="gol"><circle cx="739" cy="1294" r="9"/></g>
<g id="n-o7" class="gol"><circle cx="267" cy="1427" r="9"/></g>
<g id="n-q1" class="gor"><circle cx="1091" cy="1084" r="9"/></g>
<g id="n-q2" class="gor"><circle cx="1195" cy="1132" r="12"/></g>
<g id="n-q3" class="gor"><circle cx="1355" cy="1104" r="11"/></g>
<g id="n-q4" class="gor"><circle cx="1011" cy="1155" r="9"/></g>
<g id="n-q5" class="gor"><circle cx="1290" cy="1148" r="11"/></g>
<g id="n-q6" class="gor"><circle cx="1243" cy="1180" r="10"/></g>
<g id="n-q7" class="gor"><circle cx="1413" cy="1195" r="9"/></g>
<g id="n-q8" class="gor"><circle cx="1181" cy="1292" r="9"/></g>
<g id="n-q9" class="gor"><circle cx="1402" cy="1290" r="10"/></g>
<g id="n-q10" class="gor"><circle cx="1466" cy="1283" r="12"/></g>
<g id="n-q11" class="gor"><circle cx="1440" cy="1359" r="9"/></g>
<g id="n-q12" class="gor"><circle cx="1191" cy="1397" r="10"/></g>
<g id="n-q13" class="gor"><circle cx="1377" cy="1413" r="10"/></g>

<g id="n-cmc" class="gec"><circle cx="594" cy="245" r="7"/><text x="594" y="245" font-size="16.8">computermediated communication</text></g>
<g id="n-wom" class="gec"><circle cx="700" cy="133" r="6"/><text x="700" y="133" font-size="17">word of mouth</text></g>
<g id="n-acc" class="ggv"><circle cx="217" cy="663" r="6"/><text x="217" y="662" font-size="17.1">accountability</text></g>
<g id="n-pi" class="ggv"><circle cx="296" cy="733" r="7"/><text x="296" y="733" font-size="17.1">public information</text></g>
<g id="n-cb" class="gec"><circle cx="596" cy="282" r="7"/><text x="596" y="282" font-size="17.1">consumer behaviour</text></g>
<g id="n-ewm" class="gec"><circle cx="584" cy="150" r="7"/><text x="584" y="150" font-size="17.1">electronic word of mouth</text></g>
<g id="n-ewom" class="gec"><circle cx="525" cy="226" r="7"/><text x="525" y="225" font-size="17.6">ewom</text></g>
<g id="n-em" class="gec"><circle cx="634" cy="234" r="6"/><text x="634" y="233" font-size="17.8">emarketing</text></g>
<g id="n-lg" class="ggv"><circle cx="211" cy="763" r="7"/><text x="211" y="763" font-size="17.8">local government</text></g>
<g id="n-sem" class="gml"><circle cx="1090" cy="581" r="6"/><text x="1090" y="581" font-size="17.9">semantic</text></g>
<g id="n-og" class="ggv"><circle cx="333" cy="683" r="7"/><text x="333" y="682" font-size="17.9">open government</text></g>
<g id="n-gd" class="gec"><circle cx="737" cy="208" r="7"/><text x="738" y="207" font-size="18">gender difference</text></g>
<g id="n-tpm" class="gml"><circle cx="288" cy="467" r="7"/><text x="288" y="467" font-size="18.3">topic model</text></g>
<g id="n-nn" class="gml"><circle cx="348" cy="363" r="7"/><text x="347" y="363" font-size="18.4">neural network</text></g>
<g id="n-sma" class="gml"><circle cx="331" cy="197" r="7"/><text x="331" y="196" font-size="18.5">social media analytic</text></g>
<g id="n-fs" class="gml"><circle cx="177" cy="411" r="7"/><text x="176" y="411" font-size="18.5">feature selection</text></g>
<g id="n-kms" class="gkm"><circle cx="1437" cy="291" r="7"/><text x="1437" y="290" font-size="18.5">knowledge management system</text></g>
<g id="n-tc" class="gml"><circle cx="102" cy="308" r="7"/><text x="102" y="308" font-size="18.5">text classification</text></g>
<g id="n-om" class="gml"><circle cx="345" cy="89" r="7"/><text x="345" y="89" font-size="18.6">opinion mining</text></g>
<g id="n-ec" class="gec"><circle cx="735" cy="59" r="7"/><text x="735" y="60" font-size="18.6">electronic commerce</text></g>
<g id="n-cf" class="gec"><circle cx="849" cy="180" r="7"/><text x="849" y="180" font-size="18.7">collaborative filtering</text></g>
<g id="n-mk" class="gec"><circle cx="1098" cy="423" r="6.5"/><text x="1097" y="423" font-size="18.7">marketing</text></g>
<g id="n-ca" class="gml"><circle cx="415" cy="293" r="7"/><text x="416" y="293" font-size="18.8">cluster analysis</text></g>
<g id="n-bb" class="gbr"><circle cx="963" cy="485" r="7"/><text x="963" y="485" font-size="19">broadband</text></g>
<g id="n-ws" class="gml"><circle cx="112" cy="110" r="7"/><text x="112" y="111" font-size="19.1">web survey</text></g>
<g id="n-reg" class="ggv"><circle cx="275" cy="621" r="7"/><text x="275" y="621" font-size="19.2">regulation</text></g>
<g id="n-tk" class="gkm"><circle cx="1448" cy="54" r="7"/><text x="1447" y="54" font-size="19.2">tacit knowledge</text></g>
<g id="n-ugc" class="gec"><circle cx="603" cy="206" r="7"/><text x="604" y="206" font-size="19.6">usergenerated content</text></g>
<g id="n-sec" class="gpk"><circle cx="323" cy="838" r="7"/><text x="322" y="838" font-size="19.7">security</text></g>
<g id="n-fn" class="gsm"><circle cx="850" cy="628" r="7"/><text x="850" y="628" font-size="19.8">fake news</text></g>
<g id="n-sme" class="gkm"><circle cx="1286" cy="106" r="7"/><text x="1286" y="105" font-size="19.8">sme</text></g>
<g id="n-rs" class="gec"><circle cx="806" cy="151" r="7"/><text x="806" y="150" font-size="19.9">recommender system</text></g>
<g id="n-ac" class="gkm"><circle cx="1207" cy="68" r="7"/><text x="1206" y="67" font-size="20">absorptive capacity</text></g>
<g id="n-aff" class="gbr"><circle cx="791" cy="477" r="7"/><text x="791" y="478" font-size="20">affordance</text></g>
<g id="n-pol" class="gbr"><circle cx="923" cy="435" r="7"/><text x="923" y="435" font-size="20.1">policy</text></g>
<g id="n-tmo" class="gsm"><circle cx="796" cy="578" r="7"/><text x="796" y="578" font-size="20.2">topic modeling</text></g>
<g id="n-fp" class="gkm"><circle cx="1156" cy="176" r="7"/><text x="1155" y="175" font-size="20.2">firm performance</text></g>
<g id="n-gov" class="ggv"><circle cx="186" cy="617" r="7"/><text x="185" y="615" font-size="20.4">governance</text></g>
<g id="n-dev" class="gbr"><circle cx="983" cy="393" r="7"/><text x="983" y="393" font-size="20.6">development</text></g>
<g id="n-kc" class="gkm"><circle cx="1428" cy="362" r="8"/><text x="1427" y="361" font-size="20.7">knowledge creation</text></g>
<g id="n-or" class="gec"><circle cx="515" cy="112" r="8"/><text x="515" y="113" font-size="20.7">online review</text></g>
<g id="n-eb" class="gbr"><circle cx="961" cy="577" r="8"/><text x="960" y="577" font-size="20.8">ebook</text></g>
<g id="n-us" class="gpk"><circle cx="627" cy="1011" r="7"/><text x="627" y="1010" font-size="20.5">usability</text></g>
<g id="n-sat" class="gpk"><circle cx="355" cy="958" r="7"/><text x="355" y="960" font-size="21.1">satisfaction</text></g>
<g id="n-oi" class="gkm"><circle cx="1382" cy="81" r="7"/><text x="1381" y="80" font-size="21.3">open innovation</text></g>
<g id="n-dq" class="gml"><circle cx="94" cy="186" r="7"/><text x="94" y="185" font-size="21.4">data quality</text></g>
<g id="n-hl" class="gor"><circle cx="1457" cy="1155" r="8"/><text x="1457" y="1156" font-size="21.5">health</text></g>
<g id="n-dl" class="gml"><circle cx="245" cy="435" r="9"/><text x="245" y="435" font-size="22.1">deep learning</text></g>
<g id="n-scy" class="ggv"><circle cx="179" cy="548" r="8"/><text x="178" y="547" font-size="22.2">smart city</text></g>
<g id="n-sns" class="gsm"><circle cx="619" cy="661" r="7"/><text x="619" y="660" font-size="22.7">social networking site</text></g>
<g id="n-pc" class="gsm"><circle cx="712" cy="861" r="7"/><text x="712" y="860" font-size="22.8">political communication</text></g>
<g id="n-ict" class="gbr"><circle cx="972" cy="324" r="9"/><text x="972" y="325" font-size="22.8">ict</text></g>
<g id="n-tr" class="ggv"><circle cx="253" cy="645" r="10"/><text x="252" y="644" font-size="23.4">transparency</text></g>
<g id="n-kt" class="gkm"><circle cx="1422" cy="151" r="9"/><text x="1422" y="150" font-size="23.6">knowledge transfer</text></g>
<g id="n-ls" class="gli"><circle cx="1449" cy="652" r="8"/><text x="1449" y="651" font-size="24.1">library service</text></g>
<g id="n-ad" class="gpk"><circle cx="538" cy="1004" r="8"/><text x="537" y="1003" font-size="24.1">adoption</text></g>
<g id="n-ul" class="gli"><circle cx="1171" cy="761" r="8"/><text x="1170" y="760" font-size="24.1">university library</text></g>
<g id="n-is" class="gpk"><circle cx="248" cy="999" r="9"/><text x="248" y="999" font-size="24.8">information system</text></g>
<g id="n-im" class="gol"><circle cx="624" cy="1177" r="8"/><text x="626" y="1176" font-size="24.8">information management</text></g>
<g id="n-dd" class="gbr"><circle cx="976" cy="547" r="9"/><text x="976" y="546" font-size="24.8">digital divide</text></g>
<g id="n-sc" class="gkm"><circle cx="1438" cy="111" r="9"/><text x="1438" y="110" font-size="24.9">social capital</text></g>
<g id="n-uni" class="gol"><circle cx="553" cy="1250" r="9"/><text x="553" y="1249" font-size="25.7">university</text></g>
<g id="n-ca2" class="gor"><circle cx="1050" cy="1128" r="9"/><text x="1050" y="1127" font-size="25.7">content analysis</text></g>
<g id="n-wos" class="gol"><circle cx="230" cy="1369" r="9"/><text x="230" y="1369" font-size="25.9">web of science</text></g>
<g id="n-hc" class="gor"><circle cx="1197" cy="1343" r="10"/><text x="1196" y="1343" font-size="26">health care</text></g>
<g id="n-iv" class="gor"><circle cx="1327" cy="1365" r="9"/><text x="1328" y="1364" font-size="26.2">interview</text></g>
<g id="n-dlib" class="gli"><circle cx="1376" cy="606" r="9"/><text x="1376" y="605" font-size="26.3">digital library</text></g>
<g id="n-ba" class="gol"><circle cx="170" cy="1224" r="9"/><text x="170" y="1223" font-size="26.7">bibliometric analysis</text></g>
<g id="n-nlp" class="gml"><circle cx="345" cy="284" r="11"/><text x="344" y="283" font-size="27">natural language processing</text></g>
<g id="n-he" class="gol"><circle cx="712" cy="1117" r="10"/><text x="712" y="1117" font-size="27">higher education</text></g>
<g id="n-it" class="gbr"><circle cx="905" cy="270" r="11"/><text x="905" y="268" font-size="27.2">information technology</text></g>
<g id="n-sa" class="gml"><circle cx="255" cy="212" r="11"/><text x="255" y="211" font-size="27.7">sentiment analysis</text></g>
<g id="n-eg" class="ggv"><circle cx="117" cy="668" r="12"/><text x="118" y="666" font-size="27.7">egovernment</text></g>
<g id="n-re" class="gol"><circle cx="447" cy="1334" r="10"/><text x="447" y="1335" font-size="27.8">research evaluation</text></g>
<g id="n-tm" class="gml"><circle cx="227" cy="312" r="12"/><text x="226" y="310" font-size="28.4">text mining</text></g>
<g id="n-int" class="gsm"><circle cx="934" cy="904" r="11"/><text x="934" y="905" font-size="28.6">internet</text></g>
<g id="n-cl" class="gli"><circle cx="1169" cy="981" r="8"/><text x="1169" y="982" font-size="28.6">classification</text></g>
<g id="n-sci" class="gol"><circle cx="281" cy="1139" r="12"/><text x="281" y="1140" font-size="28.7">scientometric</text></g>
<g id="n-trs" class="gpk"><circle cx="424" cy="1053" r="12"/><text x="424" y="1054" font-size="29.3">trust</text></g>
<g id="n-pr" class="gbr"><circle cx="811" cy="535" r="12"/><text x="810" y="534" font-size="29.6">privacy</text></g>
<g id="n-pl" class="gli"><circle cx="1346" cy="695" r="12"/><text x="1346" y="693" font-size="29.7">public library</text></g>
<g id="n-lib" class="gli"><circle cx="1408" cy="752" r="11"/><text x="1409" y="750" font-size="30">library</text></g>
<g id="n-sna" class="gol"><circle cx="169" cy="1095" r="10"/><text x="169" y="1094" font-size="30">social network analysis</text></g>
<g id="n-cit" class="gol"><circle cx="327" cy="1420" r="13"/><text x="326" y="1420" font-size="30.2">citation</text></g>
<g id="n-fb" class="gsm"><circle cx="575" cy="761" r="10"/><text x="576" y="761" font-size="30.8">facebook</text></g>
<g id="n-ir" class="gli"><circle cx="1213" cy="671" r="12"/><text x="1213" y="673" font-size="30.8">information retrieval</text></g>
<g id="n-alt" class="gol"><circle cx="374" cy="1366" r="12"/><text x="374" y="1367" font-size="31">altmetric</text></g>
<g id="n-col" class="gol"><circle cx="400" cy="1174" r="13"/><text x="398" y="1175" font-size="32">collaboration</text></g>
<g id="n-inn" class="gbr"><circle cx="865" cy="369" r="14"/><text x="864" y="369" font-size="32.4">innovation</text></g>
<g id="n-ml" class="gml"><circle cx="166" cy="239" r="15"/><text x="166" y="237" font-size="34">machine learning</text></g>
<g id="n-ks" class="gkm"><circle cx="1276" cy="27" r="13"/><text x="1275" y="26" font-size="34">knowledge sharing</text></g>
<g id="n-cs" class="gli"><circle cx="1187" cy="879" r="13"/><text x="1187" y="878" font-size="34">case study</text></g>
<g id="n-sn" class="gsm"><circle cx="817" cy="815" r="13"/><text x="817" y="815" font-size="35.5">social network</text></g>
<g id="n-bd" class="gbr"><circle cx="888" cy="495" r="14"/><text x="887" y="493" font-size="36">big data</text></g>
<g id="n-ehr" class="gor"><circle cx="1116" cy="1278" r="16"/><text x="1116" y="1279" font-size="37">electronic health record</text></g>
<g id="n-cia" class="gol"><circle cx="197" cy="1301" r="16"/><text x="197" y="1299" font-size="39">citation analysis</text></g>
<g id="n-tw" class="gsm"><circle cx="619" cy="820" r="14"/><text x="619" y="820" font-size="40.4">twitter</text></g>
<g id="n-il" class="gli"><circle cx="1249" cy="903" r="16"/><text x="1249" y="900" font-size="42.7">information literacy</text></g>
<g id="n-km" class="gkm"><circle cx="1242" cy="233" r="17"/><text x="1241" y="231" font-size="46">knowledge management</text></g>
<g id="n-al" class="gli"><circle cx="1315" cy="815" r="17"/><text x="1315" y="813" font-size="50.5">academic library</text></g>
<g id="n-bib" class="gol"><circle cx="340" cy="1246" r="22"/><text x="340" y="1247" font-size="61">bibliometric</text></g>
<g id="n-ql" class="gor"><circle cx="1312" cy="1235" r="24"/><text x="1313" y="1232" font-size="61">qualitative</text></g>
<g id="n-sm" class="gsm"><circle cx="762" cy="729" r="35"/><text x="761" y="729" font-size="85">social media</text></g>
</g>
</g>
</svg>
